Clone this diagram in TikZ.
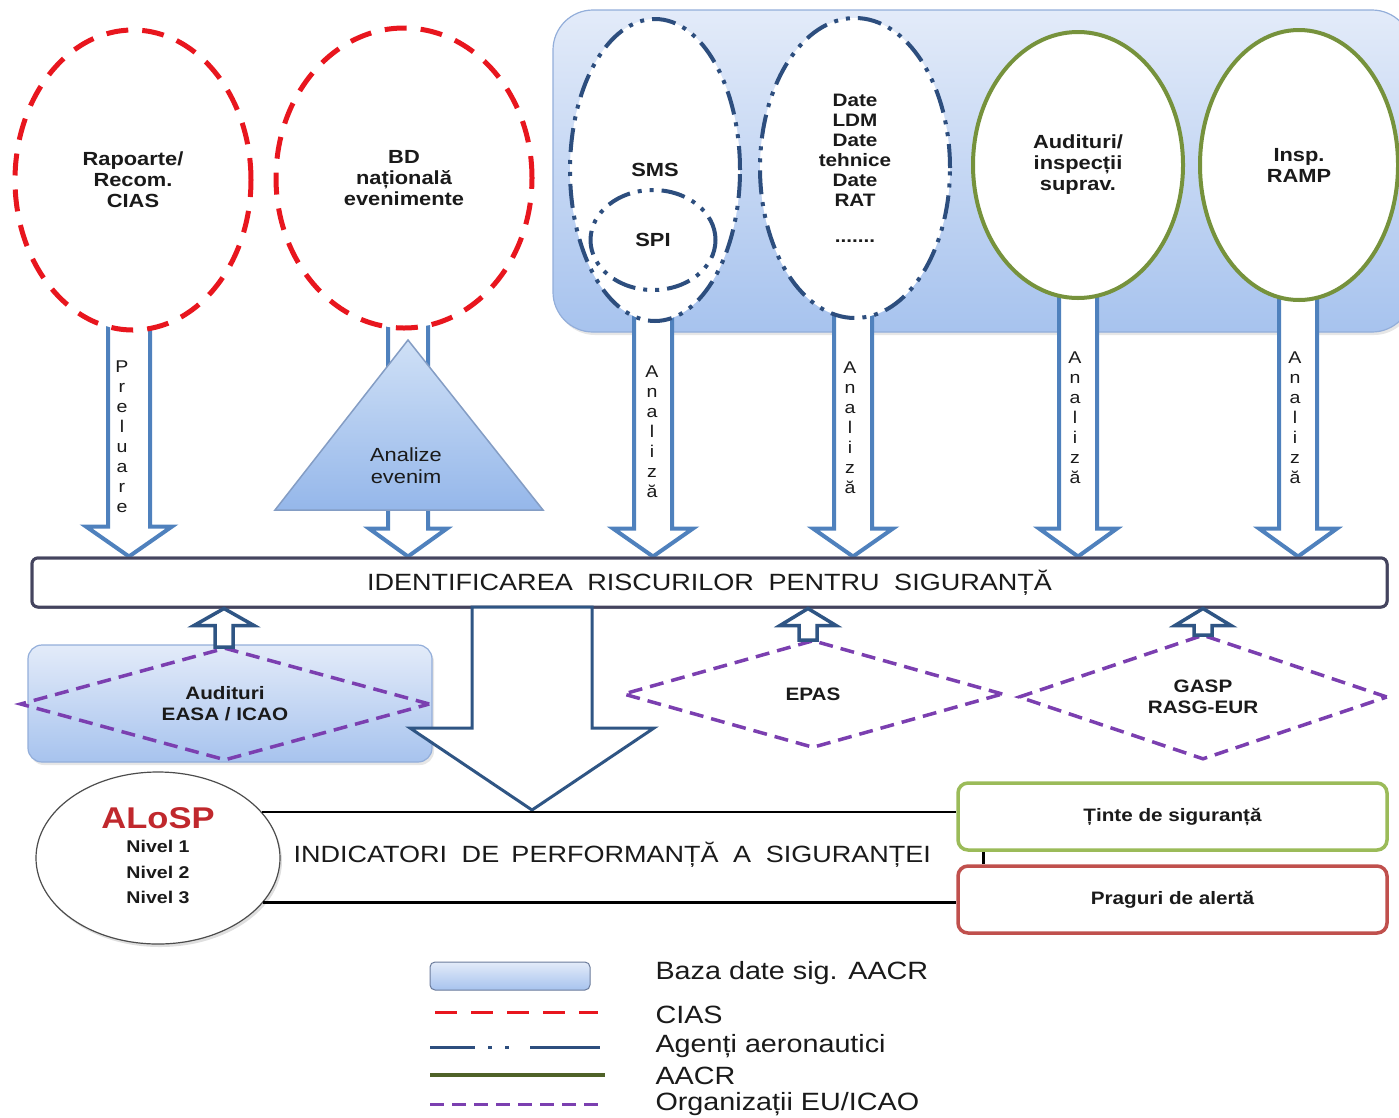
\documentclass[tikz,border=0pt]{standalone}
\usepackage{fontspec}
\setmainfont{Liberation Sans}[FakeStretch=1.15]
\usetikzlibrary{shapes.geometric,calc,shadows}
\definecolor{cred}{HTML}{E8161E}
\definecolor{cblue}{HTML}{2D4E7E}
\definecolor{cgreen}{HTML}{76923C}
\definecolor{cpurple}{HTML}{7B3FB0}
\definecolor{arrblue}{HTML}{4F81BD}
\definecolor{darkarr}{HTML}{2F5584}
\definecolor{boxline}{HTML}{44445E}
\definecolor{regtop}{HTML}{E3EBF9}
\definecolor{regbot}{HTML}{A7C3EE}
\definecolor{regline}{HTML}{93AEDA}
\definecolor{tgreen}{HTML}{9BBB59}
\definecolor{tred}{HTML}{C0504D}
\definecolor{txt}{HTML}{1A1A1A}
\definecolor{tritop}{HTML}{CFE0F6}
\definecolor{tribot}{HTML}{95B7EA}
\definecolor{alred}{HTML}{C0282D}
\definecolor{legline}{HTML}{6B7B9B}
\definecolor{leggreen}{HTML}{4F6228}
\newcommand\arrdown[6]{\draw[#6] let \p1=(#1), \p2=(#2) in
 (\x1-#3pt,\y1) -- (\x1-#3pt,\y2+#5pt) -- (\x1-#4pt,\y2+#5pt) -- (\x1,\y2) -- (\x1+#4pt,\y2+#5pt) -- (\x1+#3pt,\y2+#5pt) -- (\x1+#3pt,\y1) -- cycle;}
\newcommand\arrup[6]{\draw[#6] let \p1=(#1), \p2=(#2) in
 (\x1-#3pt,\y1) -- (\x1-#3pt,\y2-#5pt) -- (\x1-#4pt,\y2-#5pt) -- (\x1,\y2) -- (\x1+#4pt,\y2-#5pt) -- (\x1+#3pt,\y2-#5pt) -- (\x1+#3pt,\y1) -- cycle;}
\tikzset{
 region/.style={draw=regline, line width=1.2, top color=regtop, bottom color=regbot, drop shadow={opacity=0.2, shadow xshift=2pt, shadow yshift=-3pt}},
 ellbase/.style={ellipse, inner sep=0pt, align=center, fill=white, text=txt, font=\bfseries\fontsize{19}{21}\selectfont},
 redell/.style={ellbase, draw=cred, line width=5, dash pattern=on 22pt off 14pt},
 blueell/.style={ellbase, draw=cblue, line width=4, dash pattern=on 24pt off 8pt on 4pt off 8pt on 4pt off 8pt},
 greenell/.style={ellbase, draw=cgreen, line width=4},
 bigarrow/.style={draw=arrblue, line width=4, fill=white},
 uparrow/.style={draw=darkarr, line width=3.5, fill=white},
 vtext/.style={align=center, text=txt, font=\fontsize{17}{20}\selectfont},
 purpdia/.style={diamond, aspect=4, inner sep=0pt, draw=cpurple, line width=3.5, dash pattern=on 14pt off 8pt, align=center, text=txt, font=\bfseries\fontsize{18}{21}\selectfont},
 sidebox/.style={rounded corners=10, line width=3.5, fill=white, minimum width=429, minimum height=67, text=txt, font=\bfseries\fontsize{18}{21}\selectfont},
 legtext/.style={anchor=west, text=txt, font=\fontsize{25}{27}\selectfont}
}
\begin{document}
\begin{tikzpicture}[x=1pt,y=-1pt]
\useasboundingbox (0,0) rectangle (1399,1117);
% background regions
\draw[region, rounded corners=40] (553,10) rectangle (1412,332);
\draw[region, rounded corners=14] (28,645) rectangle (432,762);
\coordinate (bigtop) at (532,607);
\coordinate (bigtip) at (532,810);
\node[draw=boxline, line width=3, rounded corners=6, minimum width=1355, minimum height=49, inner sep=0pt] (boxref) at (709.5,582.5) {};
% down arrows
\arrdown{129,318}{boxref.north}{21}{43}{30}{bigarrow}
\arrdown{408,315}{boxref.north}{20}{39}{28}{bigarrow}
\arrdown{653,305}{boxref.north}{19}{40}{28}{bigarrow}
\arrdown{853,302}{boxref.north}{19}{40}{28}{bigarrow}
\arrdown{1078,285}{boxref.north}{19}{39}{28}{bigarrow}
\arrdown{1298,285}{boxref.north}{19}{39}{28}{bigarrow}
% ellipses
\node[redell, minimum width=236, minimum height=300] (e1) at (133,180) {Rapoarte/\\Recom.\\CIAS};
\node[redell, minimum width=256, minimum height=300] (e2) at (404,178) {BD\\națională\\evenimente};
\node[blueell, minimum width=170, minimum height=302] (sms) at (655,170) {SMS};
\node[blueell, fill=none, minimum width=125, minimum height=100] (spi) at (653,240) {SPI};
\node[blueell, minimum width=190, minimum height=300, font=\bfseries\fontsize{18}{20}\selectfont] (date) at (855,168) {Date\\LDM\\Date\\tehnice\\Date\\RAT\\[16pt].......};
\node[greenell, minimum width=210, minimum height=266] (aud) at (1078,165) {Audituri/\\inspecții\\suprav.};
\node[greenell, minimum width=198, minimum height=270] (ramp) at (1299,165) {Insp.\\RAMP};
% triangle
\draw[draw=regline!90!black, line width=1.5, top color=tritop, bottom color=tribot] (408,340) -- (543,510) -- (275,510) -- cycle;
\node[align=center, text=txt, font=\fontsize{19}{22}\selectfont] (tri) at (406,466) {Analize\\evenim};
% vertical texts
\node[vtext] (v1) at (122,437) {P\\r\\e\\l\\u\\a\\r\\e};
\node[vtext] (v3) at (652,432) {A\\n\\a\\l\\i\\z\\ă};
\node[vtext] (v4) at (850,428) {A\\n\\a\\l\\i\\z\\ă};
\node[vtext] (v5) at (1075,418) {A\\n\\a\\l\\i\\z\\ă};
\node[vtext] (v6) at (1295,418) {A\\n\\a\\l\\i\\z\\ă};
% main box
\node[draw=boxline, line width=3, rounded corners=6, minimum width=1355, minimum height=49, inner sep=0pt, fill=white, text=txt, font=\fontsize{23.5}{26}\selectfont] (box) at (709.5,582.5) {IDENTIFICAREA\hspace{0.3em} RISCURILOR\hspace{0.3em} PENTRU\hspace{0.3em} SIGURANȚĂ};
% diamonds
\node[purpdia, minimum width=410, minimum height=113] (d1) at (225,704) {Audituri\\EASA / ICAO};
\node[purpdia, minimum width=380, minimum height=108] (d2) at (813,694) {EPAS};
\node[purpdia, minimum width=369, minimum height=125] (d3) at (1203,697) {GASP\\RASG-EUR};
% small up arrows
\arrup{224,647}{box.south}{9}{30}{17}{uparrow}
\arrup{808,640}{box.south}{9}{28}{17}{uparrow}
\arrup{1203,635}{box.south}{9}{28}{17}{uparrow}
% big down arrow
\arrdown{bigtop}{bigtip}{60}{122}{82}{draw=darkarr, line width=3, fill=white}
% side boxes
\node[sidebox, draw=tgreen] (tinte) at (1172.5,816.5) {Ținte de siguranță};
\node[sidebox, draw=tred] (prag) at (1172.5,899.5) {Praguri de alertă};
\draw[line width=3, black] ([xshift=27pt]tinte.south west) -- ([xshift=27pt]prag.north west);
% ALoSP
\node[ellipse, draw=black!70, line width=1.2, fill=white, minimum width=244, minimum height=172, inner sep=0pt, drop shadow={opacity=0.25, shadow xshift=2pt, shadow yshift=-3pt}] (alosp) at (158,858) {};
\draw[line width=2.5, black] (alosp.24) -- (alosp.24 -| tinte.west);
\draw[line width=2.5, black] (alosp.-23) -- (alosp.-23 -| prag.west);
\node[text=alred, font=\bfseries\fontsize{30}{32}\selectfont] (alt) at (158,818) {ALoSP};
\node[align=center, text=txt, font=\bfseries\fontsize{17}{25.5}\selectfont] (niv) at (158,872) {Nivel 1\\Nivel 2\\Nivel 3};
\node[anchor=west, text=txt, font=\fontsize{23.5}{25}\selectfont] (ind) at (290,855) {INDICATORI\hspace{0.3em} DE\hspace{0.2em} PERFORMANȚĂ\hspace{0.3em} A\hspace{0.3em} SIGURANȚEI};
% legend
\node[draw=legline, line width=1, rounded corners=5, top color=regtop, bottom color=regbot, minimum width=160, minimum height=28, inner sep=0pt] (lb) at (510,976) {};
\draw[cred, line width=3, dash pattern=on 22pt off 14pt] (435,1012) -- (598,1012);
\draw[cblue, line width=3, dash pattern=on 45pt off 13pt on 4pt off 13pt on 4pt off 21pt on 70pt off 10pt] (430,1047) -- (600,1047);
\draw[leggreen, line width=3.5] (430,1075) -- (605,1075);
\draw[cpurple, line width=3, dash pattern=on 14pt off 8pt] (430,1104) -- (600,1104);
\node[legtext] (l1) at (652,973) {Baza date sig. AACR};
\node[legtext] (l2) at (652,1015) {CIAS};
\node[legtext] (l3) at (652,1046) {Agenți aeronautici};
\node[legtext] (l4) at (652,1076) {AACR};
\node[legtext] (l5) at (652,1104) {Organizații EU/ICAO};
\end{tikzpicture}
\end{document}
